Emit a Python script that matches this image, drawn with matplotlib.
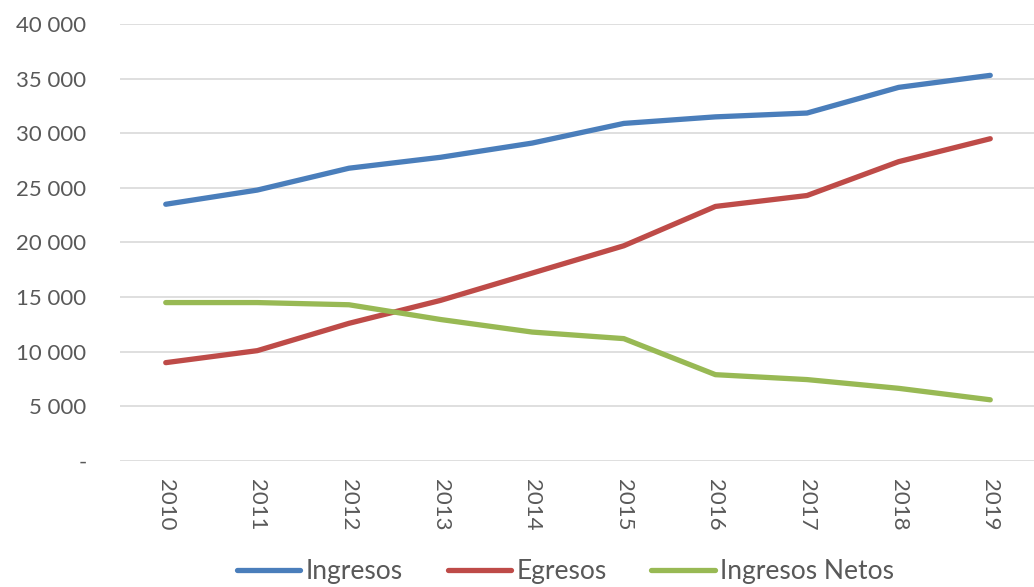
import matplotlib
matplotlib.use("Agg")
import matplotlib.pyplot as plt
from matplotlib.ticker import FuncFormatter

years = ["2010", "2011", "2012", "2013", "2014", "2015", "2016", "2017", "2018", "2019"]
ingresos = [23500, 24800, 26800, 27800, 29100, 30900, 31500, 31850, 34200, 35300]
egresos = [9000, 10100, 12600, 14700, 17200, 19700, 23300, 24300, 27400, 29500]
netos = [14500, 14500, 14300, 12950, 11800, 11200, 7900, 7450, 6650, 5600]

series = [
    ("Ingresos", ingresos, "#4A7EBB"),
    ("Egresos", egresos, "#BE4B48"),
    ("Ingresos Netos", netos, "#98B954"),
]

plt.rcParams["font.family"] = ["Lato", "DejaVu Sans"]

fig = plt.figure(figsize=(10.34, 5.87), dpi=100)
ax = fig.add_axes([0.116, 0.2147, 0.886, 0.7444])

x = list(range(len(years)))
for name, vals, col in series:
    ax.plot(x, vals, color=col, linewidth=3.8, solid_capstyle="round", label=name)

ax.set_xlim(-0.5, len(years) - 0.5)
ax.set_ylim(0, 40000)
ax.set_yticks(range(0, 40001, 5000))


def fmt(v, pos):
    if v == 0:
        return "-"
    return "{:,.0f}".format(v).replace(",", " ")


ax.yaxis.set_major_formatter(FuncFormatter(fmt))
ax.set_xticks(x)
ax.set_xticklabels(years, rotation=-90)

ax.grid(axis="y", color="#D9D9D9", linewidth=1.2)
ax.set_axisbelow(True)
for s in ax.spines.values():
    s.set_visible(False)
ax.tick_params(axis="both", length=0, labelsize=16, colors="#595959")
ax.tick_params(axis="y", pad=24)
ax.tick_params(axis="x", pad=13)

leg = fig.legend(loc="center", bbox_to_anchor=(0.547, 0.026), ncol=3, frameon=False,
                 fontsize=19, handlelength=2.4, handletextpad=0.2, columnspacing=1.7)
for t in leg.get_texts():
    t.set_color("#595959")

fig.savefig("out.png", dpi=100)
